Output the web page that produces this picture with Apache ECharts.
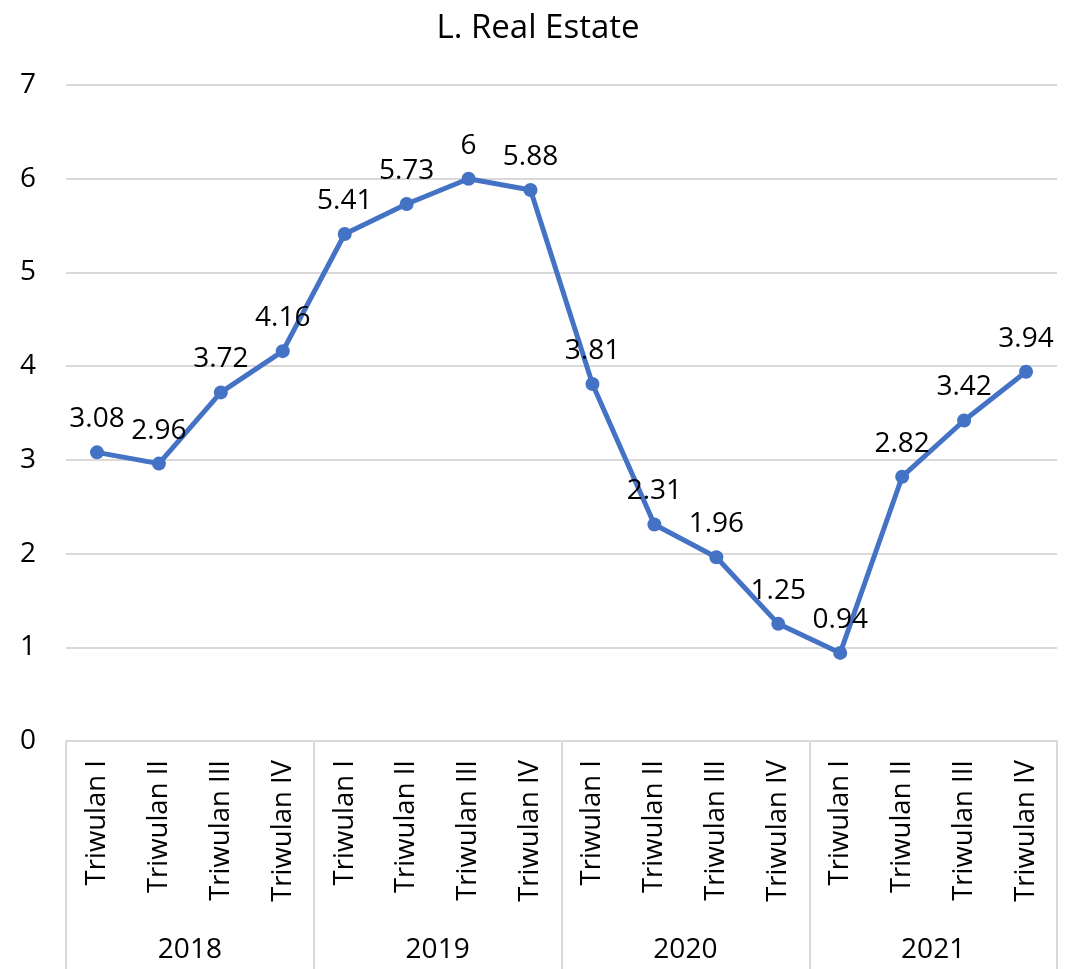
<!DOCTYPE html>
<html>
<head>
<meta charset="utf-8">
<script src="https://cdn.jsdelivr.net/npm/echarts@6/dist/echarts.min.js"></script>
<style>
html, body { margin: 0; padding: 0; background: #fff; }
#chart { width: 1076px; height: 969px; }
</style>
</head>
<body>
<div id="chart"></div>
<script>
"use strict";

var quarters = ['Triwulan I', 'Triwulan II', 'Triwulan III', 'Triwulan IV',
	'Triwulan I', 'Triwulan II', 'Triwulan III', 'Triwulan IV',
	'Triwulan I', 'Triwulan II', 'Triwulan III', 'Triwulan IV',
	'Triwulan I', 'Triwulan II', 'Triwulan III', 'Triwulan IV'];
var years = ['2018', '2019', '2020', '2021'];
var values = [3.08, 2.96, 3.72, 4.16, 5.41, 5.73, 6, 5.88, 3.81, 2.31, 1.96, 1.25, 0.94, 2.82, 3.42, 3.94];
var yTicks = [0, 1, 2, 3, 4, 5, 6, 7];

var font = '"Open Sans", "Noto Sans", sans-serif';
var chart = echarts.init(document.getElementById('chart'));
var option = {
	animation: false,
	title: {
		text: 'L. Real Estate',
		left: 'center',
		top: 7,
		textStyle: {
			fontFamily: font,
			fontSize: 33,
			fontWeight: 'normal',
			color: '#000'
		}
	},
	grid: {
		left: 66,
		right: 19,
		top: 85,
		bottom: 228
	},
	xAxis: [{
		type: 'category',
		data: quarters,
		position: 'bottom',
		axisLine: { show: false },
		axisTick: { show: false },
		axisLabel: {
			rotate: 90,
			interval: 0,
			margin: 19,
			fontFamily: font,
			fontSize: 27.5,
			color: '#000'
		}
	}, {
		type: 'category',
		data: years,
		position: 'bottom',
		axisLine: {
			show: true,
			lineStyle: { color: '#d9d9d9', width: 2 }
		},
		axisTick: {
			show: true,
			interval: 0,
			length: 240,
			lineStyle: { color: '#d9d9d9', width: 2 }
		},
		axisLabel: {
			interval: 0,
			margin: 195,
			fontFamily: font,
			fontSize: 28,
			color: '#000'
		}
	}],
	yAxis: {
		type: 'value',
		min: yTicks[0],
		max: yTicks[yTicks.length - 1],
		interval: 1,
		axisLine: { show: false },
		axisTick: { show: false },
		splitLine: {
			lineStyle: { color: '#d9d9d9', width: 2 }
		},
		axisLabel: {
			margin: 30,
			fontFamily: font,
			fontSize: 28,
			color: '#000'
		}
	},
	series: [{
		type: 'line',
		data: values,
		xAxisIndex: 0,
		color: '#4472c4',
		symbol: 'circle',
		symbolSize: 14,
		lineStyle: { width: 5, color: '#4472c4' },
		itemStyle: { color: '#4472c4' },
		label: {
			show: true,
			position: 'top',
			distance: 12,
			fontFamily: font,
			fontSize: 28,
			color: '#000'
		}
	}]
};
chart.setOption(option);
</script>
</body>
</html>
